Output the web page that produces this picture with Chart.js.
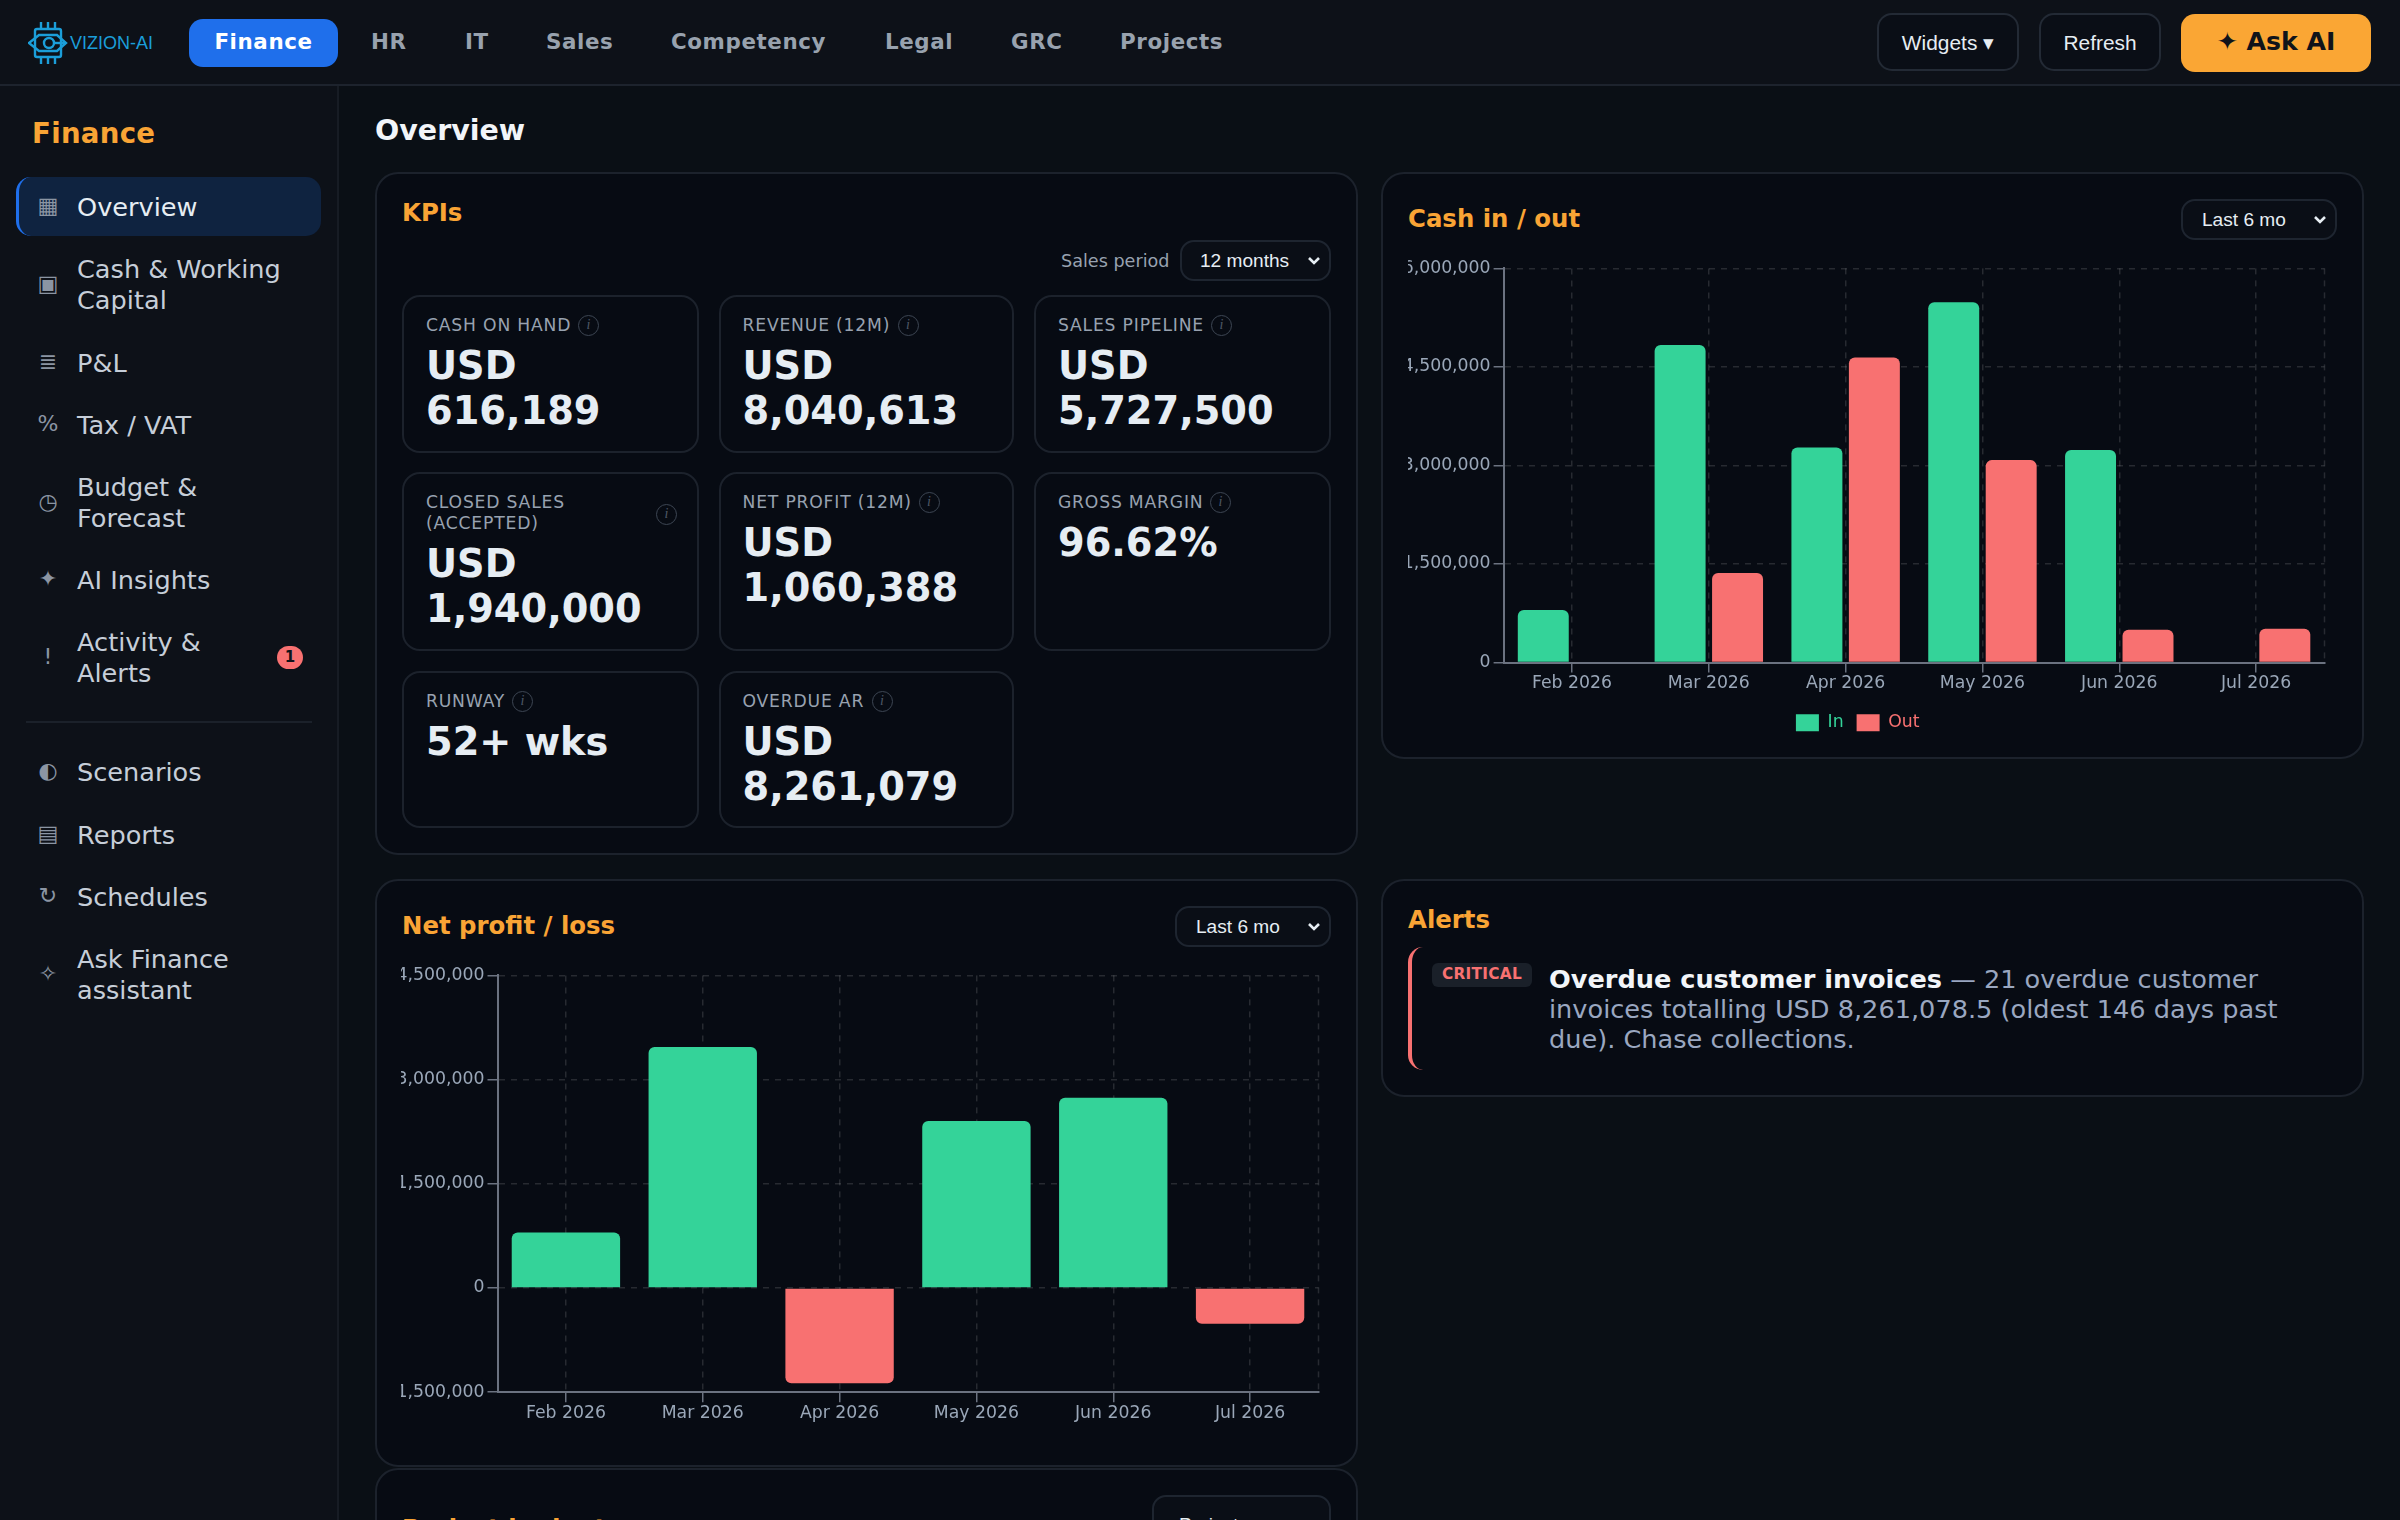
<!DOCTYPE html>
<html lang="en">
<head>
<meta charset="utf-8">
<title>Finance Overview</title>
<script src="https://cdn.jsdelivr.net/npm/chart.js@4"></script>
<style>
  * { box-sizing: border-box; }
  html, body { margin: 0; padding: 0; width: 2400px; height: 1520px; overflow: hidden; background: #0a0f15; color-scheme: dark;
    font-family: "DejaVu Sans", sans-serif; color: #e6edf3; }
  .abs { position: absolute; white-space: nowrap; }
  .topbar { position: absolute; left: 0; top: 0; width: 2400px; height: 86px; background: #0d1118; border-bottom: 2px solid #1d232d; }
  .sidebar { position: absolute; left: 0; top: 86px; width: 339px; height: 1434px; background: #0d1118; border-right: 2px solid #171c24; }
  .tab { position: absolute; top: 19px; height: 48px; line-height: 46px; font-size: 21.4px; font-weight: 700; letter-spacing: .6px; color: #98a2ae; }
  .tab.on { left: 189px; width: 149px; background: #1f6feb; color: #fff; border-radius: 14px; text-align: center; }
  .btn { position: absolute; top: 13px; height: 58px; line-height: 56px; text-align: center; border: 2px solid #232a35; border-radius: 15px;
    background: #0a0e16; font-family: "Liberation Sans", sans-serif; font-size: 20.9px; color: #e6edf3; }
  .ask { left: 2181px; top: 14px; width: 190px; height: 58px; border: 0; border-radius: 14px; background: #faa634; color: #10131a;
    font-family: "DejaVu Sans", sans-serif; font-weight: 700; font-size: 25.2px; line-height: 56px; }
  .nav-active { position: absolute; left: 16px; top: 177px; width: 305px; height: 59px; background: #0f2340; border-left: 3.5px solid #1f6feb; border-radius: 15px; }
  .nav-text { position: absolute; left: 77px; font-size: 25.6px; line-height: 30.6px; color: #c6ced8; white-space: pre; }
  .nav-icon { position: absolute; left: 33px; width: 30px; text-align: center; font-size: 22px; color: #8b95a3; line-height: 30px; }
  .badge { position: absolute; left: 277px; top: 646px; width: 26px; height: 23px; line-height: 23px; border-radius: 12px; background: #f87171; color: #10131a;
    font-size: 15px; font-weight: 700; text-align: center; }
  .card { position: absolute; background: #070b13; border: 2px solid #1c222c; border-radius: 23px; }
  .title { position: absolute; font-size: 24.4px; font-weight: 700; color: #f9a435; line-height: 30px; white-space: nowrap; }
  select { position: absolute; appearance: none; background: #0a0e16 no-repeat; border: 2px solid #1e2530; border-radius: 14px; color: #e6edf3;
    background-image: url("data:image/svg+xml,%3Csvg xmlns='http://www.w3.org/2000/svg' width='14' height='10'%3E%3Cpath d='M2 2l5 5 5-5' fill='none' stroke='%23e6edf3' stroke-width='2.6'/%3E%3C/svg%3E");
    background-position: right 8px center;
    font-family: "Liberation Sans", sans-serif; font-size: 19.1px; padding: 0 0 0 19px; margin: 0; }
  .kpi { position: absolute; background: #070b13; border: 2px solid #1c222c; border-radius: 18px; }
  .kpi-label { position: absolute; left: 22px; font-size: 17.2px; letter-spacing: .8px; line-height: 21px; color: #98a2b0; white-space: pre; }
  .kpi-value { position: absolute; left: 22px; font-size: 38.3px; font-weight: 700; line-height: 45px; color: #e6edf3; white-space: pre; }
  .info { position: absolute; width: 21px; height: 21px; line-height: 18px; border: 1.5px solid #3d4653; border-radius: 50%; text-align: center;
    font-family: "Liberation Serif", serif; font-style: italic; font-size: 14px; color: #4e5866; }
  .alert-text { position: absolute; left: 1549px; top: 963.5px; width: 770px; font-size: 25.6px; line-height: 30px; color: #9aa7c0; white-space: pre; }
  .alert-text b { color: #f2f5f9; }
  .chart-box { position: absolute; }
</style>
</head>
<body>

<div class="topbar"></div>
<div class="sidebar"></div>

<!-- logo -->
<svg class="abs" style="left:28px;top:21px" width="130" height="44" viewBox="0 0 130 44">
  <g fill="none" stroke="#1b9ed9" stroke-width="2.4">
    <rect x="7" y="8" width="26" height="28" rx="2"/>
    <path d="M13 1v7M20 1v7M27 1v7M13 36v7M20 36v7M27 36v7"/>
    <path d="M1 22l10-8h18l9 8-9 8H11z"/>
    <circle cx="21" cy="22" r="5"/>
    <path d="M26 22h12"/>
  </g>
  <text x="42" y="28" font-family="Liberation Sans" font-size="18" fill="#1b9ed9" textLength="83" lengthAdjust="spacingAndGlyphs">VIZION-AI</text>
</svg>

<div class="tab on">Finance</div>
<div class="tab" style="left:371px">HR</div>
<div class="tab" style="left:465px">IT</div>
<div class="tab" style="left:546px">Sales</div>
<div class="tab" style="left:671px">Competency</div>
<div class="tab" style="left:885px">Legal</div>
<div class="tab" style="left:1011px">GRC</div>
<div class="tab" style="left:1120px">Projects</div>

<div class="btn" style="left:1877px;width:142px">Widgets ▾</div>
<div class="btn" style="left:2039px;width:122px">Refresh</div>
<div class="btn ask">✦ Ask AI</div>

<div class="abs" style="left:32px;top:117px;font-size:27.6px;font-weight:700;letter-spacing:.3px;color:#f9a435;line-height:34px">Finance</div>
<div class="nav-active"></div>
<div id="sideNav"></div>
<div class="abs" style="left:26px;top:721px;width:286px;height:2px;background:#1b212a"></div>
<div class="badge">1</div>

<div class="abs" style="left:375px;top:113px;font-size:28.5px;font-weight:700;color:#f2f5f9;line-height:36px">Overview</div>

<!-- KPIs -->
<div class="card" style="left:375px;top:172px;width:983px;height:683px"></div>
<div class="title" style="left:402px;top:198px">KPIs</div>
<div class="abs" style="left:1061px;top:250px;font-size:17.6px;line-height:22px;color:#98a2b0">Sales period</div>
<select style="left:1180px;top:240px;width:151px;height:41px;padding-left:18px"><option>12 months</option></select>
<div id="kpiGrid"></div>

<!-- Cash in / out -->
<div class="card" style="left:1381px;top:172px;width:983px;height:587px"></div>
<div class="title" style="left:1408px;top:204px">Cash in / out</div>
<select style="left:2181px;top:199px;width:156px;height:41px"><option>Last 6 mo</option></select>
<div class="chart-box" style="left:1408px;top:255px;width:929px;height:486.4px"><canvas id="chartCash"></canvas></div>

<!-- Net profit / loss -->
<div class="card" style="left:375px;top:879px;width:983px;height:588px"></div>
<div class="title" style="left:402px;top:911px">Net profit / loss</div>
<select style="left:1175px;top:906px;width:156px;height:41px"><option>Last 6 mo</option></select>
<div class="chart-box" style="left:401px;top:962px;width:930px;height:463.2px"><canvas id="chartProfit"></canvas></div>

<!-- Alerts -->
<div class="card" style="left:1381px;top:879px;width:983px;height:218px"></div>
<div class="title" style="left:1408px;top:905px">Alerts</div>
<div class="abs" style="left:1408px;top:947px;width:30px;height:123px;border-left:4.5px solid #f87171;border-radius:15px"></div>
<div class="abs" style="left:1432px;top:963px;width:100px;height:24px;line-height:23px;border-radius:6px;background:#1a2029;color:#f87171;font-size:15.3px;font-weight:700;letter-spacing:.3px;text-align:center">CRITICAL</div>
<div class="alert-text"><b>Overdue customer invoices</b> — 21 overdue customer
invoices totalling USD 8,261,078.5 (oldest 146 days past
due). Chase collections.</div>

<!-- Project budget, cut off by the window -->
<div class="card" style="left:375px;top:1468px;width:983px;height:300px"></div>
<div class="title" style="left:402px;top:1514px">Project budget</div>
<select style="left:1152px;top:1495px;width:179px;height:58px;padding-left:25px"><option>Projects</option></select>

<script>
// ===== Chart data =====
const months = ['Feb 2026', 'Mar 2026', 'Apr 2026', 'May 2026', 'Jun 2026', 'Jul 2026'];
const cashIn = [800000, 4833000, 3272000, 5486000, 3236000, 0];
const cashOut = [0, 1364000, 4642000, 3081000, 497000, 514000];
const netProfit = [800000, 3469000, -1370000, 2405000, 2739000, -514000];
const cashTicks = [0, 1500000, 3000000, 4500000, 6000000];
const profitTicks = [-1500000, 0, 1500000, 3000000, 4500000];

// ===== Page text =====
const navLabels = ['Overview', 'Cash & Working\nCapital', 'P&L', 'Tax / VAT', 'Budget &\nForecast', 'AI Insights', 'Activity &\nAlerts', 'Scenarios', 'Reports', 'Schedules', 'Ask Finance\nassistant'];
const navIcons = ['▦', '▣', '≣', '%', '◷', '✦', '!', '◐', '▤', '↻', '✧'];
const navCenters = [207, 285, 363, 425, 503, 580, 658, 772, 835, 897, 975];

const kpiLabels = ['CASH ON HAND', 'REVENUE (12M)', 'SALES PIPELINE', 'CLOSED SALES\n(ACCEPTED)', 'NET PROFIT (12M)', 'GROSS MARGIN', 'RUNWAY', 'OVERDUE AR'];
const kpiValues = ['USD\n616,189', 'USD\n8,040,613', 'USD\n5,727,500', 'USD\n1,940,000', 'USD\n1,060,388', '96.62%', '52+ wks', 'USD\n8,261,079'];
const kpiColumns = [[402, 297], [718.5, 295.5], [1034, 297]];
const kpiRows = [[295, 158], [472, 179], [671, 157]];

// ===== Sidebar =====
const sideNav = document.getElementById('sideNav');
navLabels.forEach((label, i) => {
  const lines = label.split('\n').length;
  const text = document.createElement('div');
  text.className = 'nav-text';
  text.style.top = (navCenters[i] - lines * 15.3) + 'px';
  text.textContent = label;
  if (i === 0) text.style.color = '#e6edf3';
  const icon = document.createElement('div');
  icon.className = 'nav-icon';
  icon.style.top = (navCenters[i] - 16) + 'px';
  icon.textContent = navIcons[i];
  sideNav.append(icon, text);
});

// ===== KPI cards =====
const kpiGrid = document.getElementById('kpiGrid');
kpiLabels.forEach((label, i) => {
  const col = kpiColumns[i % 3];
  const row = kpiRows[Math.floor(i / 3)];
  const twoLine = label.includes('\n');
  const card = document.createElement('div');
  card.className = 'kpi';
  card.style.cssText = `left:${col[0]}px;top:${row[0]}px;width:${col[1]}px;height:${row[1]}px`;
  const labelEl = document.createElement('div');
  labelEl.className = 'kpi-label';
  labelEl.style.top = '18px';
  labelEl.textContent = label;
  const valueEl = document.createElement('div');
  valueEl.className = 'kpi-value';
  valueEl.style.top = (twoLine ? 45 : 24) + 24 - 2 + 'px';
  valueEl.textContent = kpiValues[i];
  const info = document.createElement('div');
  info.className = 'info';
  info.textContent = 'i';
  card.append(labelEl, valueEl, info);
  kpiGrid.append(card);
  if (twoLine) {
    info.style.left = (col[1] - 45) + 'px';
    info.style.top = '30px';
  } else {
    info.style.left = (22 + labelEl.offsetWidth + 7) + 'px';
    info.style.top = '18px';
  }
});

// ===== Chart defaults =====
Chart.defaults.font.family = "'DejaVu Sans', sans-serif";
Chart.defaults.font.size = 17.3;
Chart.defaults.color = '#9aa7b8';
Chart.defaults.animation = false;

const gridColor = 'rgba(255,255,255,0.13)';
const axisColor = '#6b7280';
const greenBar = '#34d399';
const redBar = '#f87171';

// dashed line along the right edge of the plot, the grid sits on ticks so it has none
const rightEdgeLine = {
  id: 'rightEdgeLine',
  beforeDatasetsDraw(chart) {
    const { ctx, chartArea } = chart;
    ctx.save();
    ctx.strokeStyle = gridColor;
    ctx.lineWidth = 1.5;
    ctx.setLineDash([6, 6]);
    ctx.beginPath();
    ctx.moveTo(chartArea.right, chartArea.top);
    ctx.lineTo(chartArea.right, chartArea.bottom);
    ctx.stroke();
    ctx.restore();
  },
};

// the legend sits a little left of the canvas centre
const legendNudge = {
  id: 'legendNudge',
  afterLayout(chart) {
    chart.legend.left -= 8.5;
    chart.legend.right -= 8.5;
  },
};

function axes(tickValues, axisWidth, xAxisHeight) {
  return {
    x: {
      afterFit: scale => { scale.height = xAxisHeight; },
      grid: { offset: false, color: gridColor, lineWidth: 1.5, tickColor: axisColor, tickLength: 10 },
      border: { color: axisColor, width: 2, dash: [6, 6] },
      ticks: { padding: 1, maxRotation: 0 },
    },
    y: {
      min: tickValues[0],
      max: tickValues[tickValues.length - 1],
      afterBuildTicks: scale => { scale.ticks = tickValues.map(value => ({ value })); },
      afterFit: scale => { scale.width = axisWidth; },
      grid: { color: gridColor, lineWidth: 1.5, tickColor: axisColor, tickLength: 10 },
      border: { color: axisColor, width: 2, dash: [6, 6] },
      ticks: { padding: 3, callback: value => Number(value).toLocaleString('en-US') },
    },
  };
}

// ===== Chart: Cash in / out (grouped bars) =====
new Chart(document.getElementById('chartCash'), {
  type: 'bar',
  data: {
    labels: months,
    datasets: [
      { label: 'In', data: cashIn, backgroundColor: greenBar, borderRadius: 6, barPercentage: 0.887, categoryPercentage: 0.84 },
      { label: 'Out', data: cashOut, backgroundColor: redBar, borderRadius: 6, barPercentage: 0.887, categoryPercentage: 0.84 },
    ],
  },
  options: {
    responsive: true,
    maintainAspectRatio: false,
    layout: { padding: { top: 9, right: 12.5 } },
    plugins: {
      legend: {
        position: 'bottom',
        labels: {
          boxWidth: 23,
          boxHeight: 17,
          padding: 13,
          generateLabels: chart => Chart.defaults.plugins.legend.labels.generateLabels(chart).map((item, i) => ({
            ...item,
            fontColor: [greenBar, redBar][i],
          })),
        },
      },
      tooltip: { enabled: false },
    },
    scales: axes(cashTicks, 95.6, 38.6),
  },
  plugins: [rightEdgeLine, legendNudge],
});

// ===== Chart: Net profit / loss =====
new Chart(document.getElementById('chartProfit'), {
  type: 'bar',
  data: {
    labels: months,
    datasets: [{
      label: 'Net',
      data: netProfit,
      backgroundColor: netProfit.map(v => (v < 0 ? redBar : greenBar)),
      borderRadius: 6,
      barPercentage: 0.9,
      categoryPercentage: 0.88,
    }],
  },
  options: {
    responsive: true,
    maintainAspectRatio: false,
    layout: { padding: { top: 10.4, right: 12.5 } },
    plugins: { legend: { display: false }, tooltip: { enabled: false } },
    scales: axes(profitTicks, 96.5, 33),
  },
  plugins: [rightEdgeLine],
});
</script>
</body>
</html>
